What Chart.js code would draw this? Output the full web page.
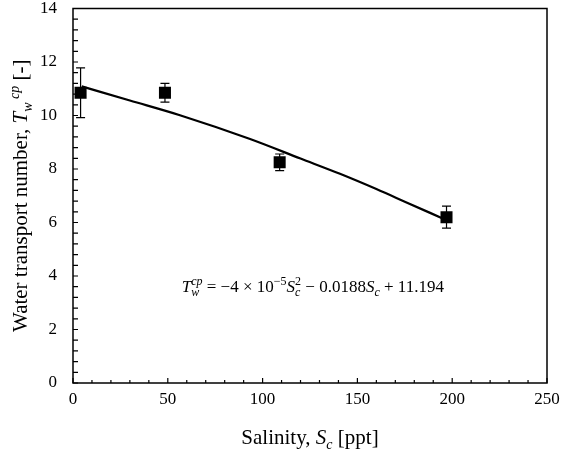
<!DOCTYPE html>
<html>
<head>
<meta charset="utf-8">
<script src="https://cdn.jsdelivr.net/npm/chart.js@4"></script>
<style>
  html, body { margin: 0; padding: 0; background: #fff; }
  #wrap { width: 561px; height: 466px; }
</style>
</head>
<body>
<div id="wrap"><canvas id="chart"></canvas></div>
<script>
// measured points with error bars
const salinity = [4, 48.5, 109, 197];
const waterNumber = [10.85, 10.85, 8.25, 6.2];
const errors = [0.93, 0.35, 0.31, 0.41];

// fitted curve
const fitX = [4.6, 30, 56.4, 93.4, 120, 140.8, 160, 175, 195];
const fitY = [11.09, 10.56, 10.01, 9.12, 8.39, 7.82, 7.25, 6.78, 6.15];

const xMax = 250, xStep = 50;
const yMax = 14, yStep = 2;

const serif = '"Liberation Serif", "Times New Roman", serif';

function layoutParts(ctx, parts) {
    let x = 0, pend = 0;
    const out = [];
    parts.forEach(p => {
        ctx.font = p.f;
        const w = ctx.measureText(p.t).width;
        out.push({ p: p, x: x });
        if (p.stack) { pend = w; } else { x += Math.max(w, pend); pend = 0; }
    });
    return { out: out, width: x };
}

function drawRich(ctx, parts, cx, y) {
    const lay = layoutParts(ctx, parts);
    const x0 = cx - lay.width / 2;
    ctx.textAlign = 'left';
    ctx.textBaseline = 'alphabetic';
    lay.out.forEach(o => {
        ctx.font = o.p.f;
        ctx.fillText(o.p.t, x0 + o.x, y + (o.p.dy || 0));
    });
}

const decorations = {
    id: 'decorations',
    beforeDatasetsDraw(chart) {
        const ctx = chart.ctx, xs = chart.scales.x, ys = chart.scales.y;
        ctx.save();
        ctx.strokeStyle = '#000';
        ctx.lineWidth = 1.2;
        salinity.forEach((s, i) => {
            const px = xs.getPixelForValue(s);
            const top = ys.getPixelForValue(waterNumber[i] + errors[i]);
            const bot = ys.getPixelForValue(waterNumber[i] - errors[i]);
            ctx.beginPath();
            ctx.moveTo(px, top); ctx.lineTo(px, bot);
            ctx.moveTo(px - 4.5, top); ctx.lineTo(px + 4.5, top);
            ctx.moveTo(px - 4.5, bot); ctx.lineTo(px + 4.5, bot);
            ctx.stroke();
        });
        ctx.restore();
    },
    afterDraw(chart) {
        const ctx = chart.ctx, a = chart.chartArea;
        const xs = chart.scales.x, ys = chart.scales.y;
        ctx.save();
        ctx.strokeStyle = '#000';
        ctx.lineWidth = 1.5;
        ctx.strokeRect(a.left, a.top, a.right - a.left, a.bottom - a.top);

        // inward tick marks
        ctx.lineWidth = 1.2;
        ctx.beginPath();
        for (let k = 0; k <= xMax / 10; k++) {
            const px = xs.getPixelForValue(k * 10);
            const len = k % 5 === 0 ? 5 : 3;
            ctx.moveTo(px, a.bottom); ctx.lineTo(px, a.bottom - len);
        }
        for (let k = 0; k <= yMax / 0.4; k++) {
            const py = ys.getPixelForValue(k * 0.4);
            ctx.moveTo(a.left, py); ctx.lineTo(a.left + 5, py);
        }
        ctx.stroke();

        ctx.fillStyle = '#000';
        // x axis title
        const f21 = '21px ' + serif, i21 = 'italic 21px ' + serif, i14s = 'italic 14px ' + serif;
        drawRich(ctx, [
            { t: 'Salinity, ', f: f21 },
            { t: 'S', f: i21 },
            { t: 'c', f: i14s, dy: 5 },
            { t: ' [ppt]', f: f21 }
        ], (a.left + a.right) / 2, 444);

        // y axis title
        ctx.save();
        ctx.translate(27, (a.top + a.bottom) / 2);
        ctx.rotate(-Math.PI / 2);
        drawRich(ctx, [
            { t: 'Water transport number, ', f: f21 },
            { t: 'T', f: i21 },
            { t: 'w', f: i14s, dy: 5 },
            { t: ' cp', f: i14s, dy: -8 },
            { t: ' [-]', f: f21 }
        ], 0, 0);
        ctx.restore();

        // fit equation
        const f16 = '17px ' + serif, i16 = 'italic 17px ' + serif, i11 = 'italic 12px ' + serif, f11 = '12px ' + serif;
        drawRich(ctx, [
            { t: 'T', f: i16 },
            { t: 'cp', f: i11, dy: -7, stack: true },
            { t: 'w', f: i11, dy: 4 },
            { t: ' = \u22124 \u00d7 10', f: f16 },
            { t: '\u22125', f: f11, dy: -7 },
            { t: 'S', f: i16 },
            { t: '2', f: f11, dy: -7, stack: true },
            { t: 'c', f: i11, dy: 4 },
            { t: ' \u2212 0.0188', f: f16 },
            { t: 'S', f: i16 },
            { t: 'c', f: i11, dy: 4 },
            { t: ' + 11.194', f: f16 }
        ], xs.getPixelForValue(126.5), ys.getPixelForValue(3.4));
        ctx.restore();
    }
};

new Chart(document.getElementById('chart'), {
    type: 'scatter',
    data: {
        datasets: [{
            label: 'Measured',
            data: salinity.map((s, i) => ({ x: s, y: waterNumber[i] })),
            pointStyle: 'rect',
            pointRadius: 8.5,
            pointHoverRadius: 8.5,
            backgroundColor: '#000',
            borderColor: '#000',
            borderWidth: 0,
            showLine: false
        }, {
            label: 'Fit',
            data: fitX.map((s, i) => ({ x: s, y: fitY[i] })),
            showLine: true,
            borderColor: '#000',
            borderWidth: 2.2,
            pointRadius: 0,
            cubicInterpolationMode: 'monotone'
        }]
    },
    options: {
        responsive: true,
        maintainAspectRatio: false,
        animation: false,
        layout: { padding: { left: 0, right: 14, top: 4, bottom: 0 } },
        plugins: { legend: { display: false }, tooltip: { enabled: false } },
        scales: {
            x: {
                type: 'linear', min: 0, max: xMax,
                grid: { display: false, drawTicks: false },
                border: { display: false },
                ticks: { stepSize: xStep, padding: 6, color: '#000', font: { family: serif, size: 17 } },
                afterFit(scale) { scale.height = 83; scale.paddingLeft = 0; scale.paddingRight = 0; }
            },
            y: {
                min: 0, max: yMax,
                grid: { display: false, drawTicks: false },
                border: { display: false },
                ticks: { stepSize: yStep, padding: 16, color: '#000', font: { family: serif, size: 17 } },
                afterFit(scale) { scale.width = 73; scale.paddingTop = 0; scale.paddingBottom = 0; }
            }
        }
    },
    plugins: [decorations]
});
</script>
</body>
</html>
